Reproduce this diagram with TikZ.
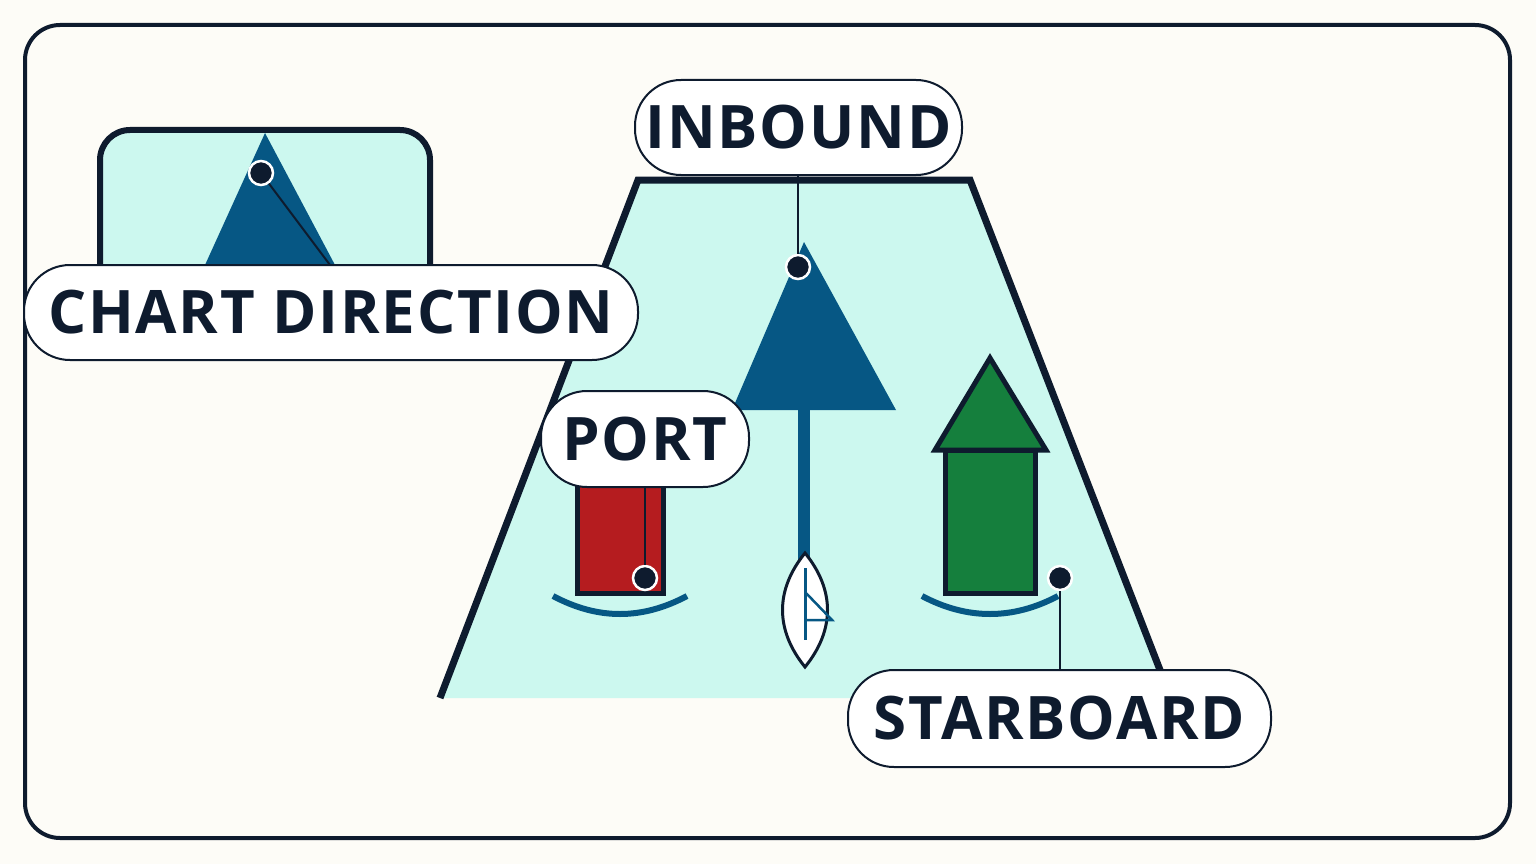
\documentclass[tikz,border=0pt]{standalone}
\usepackage{fontspec}
\setmainfont{Open Sans}[LetterSpace=3]
\begin{document}
\definecolor{bg}{HTML}{FDFCF7}
\definecolor{ink}{HTML}{0E1B2E}
\definecolor{aqua}{HTML}{CCF8EF}
\definecolor{navy}{HTML}{065784}
\definecolor{red}{HTML}{B51C1F}
\definecolor{grn}{HTML}{157F3D}
\begin{tikzpicture}[x=1pt,y=-1pt,
  pill/.style={draw=ink,line width=2pt,fill=white,rounded corners=46pt,font=\fontsize{60}{60}\selectfont\bfseries,text=ink,inner sep=0pt},
  dot/.style={circle,fill=ink,draw=white,line width=2.5pt,minimum size=24pt,inner sep=0pt},
  lead/.style={draw=ink,line width=2pt},
  arcs/.style={draw=navy,line width=6pt}]
\useasboundingbox (0,0) rectangle (1536,864);
\fill[bg] (0,0) rectangle (1536,864);
\draw[ink,line width=4pt,rounded corners=35pt] (25,25) rectangle (1510,838);
% trapezoid
\fill[aqua] (638,180) -- (970,180) -- (1170,698) -- (440,698) -- cycle;
\draw[ink,line width=7pt] (440,698) -- (638,180) -- (970,180) -- (1160,670);
% center triangle + boat
\fill[navy] (798,410) rectangle (810,560);
\fill[navy] (804,242) -- (896,410) -- (732,410) -- cycle;
\draw[ink,line width=3pt,fill=white] (805,553) .. controls (775,590) and (775,630) .. (805,667) .. controls (835,630) and (835,590) .. (805,553) -- cycle;
\draw[navy,line width=3pt] (805,568) -- (805,640);
\draw[navy,line width=2.5pt] (805,592) -- (832,620) -- (805,620);
% inset chart
\draw[ink,line width=6pt,fill=aqua,rounded corners=30pt] (100,265) -- (100,130) -- (430,130) -- (430,265);
\fill[navy] (265,133) -- (335,265) -- (205,265) -- cycle;
% port
\draw[ink,line width=5pt,fill=red] (577,470) rectangle (663,593);
\draw[arcs] (553,596) .. controls (598,620) and (642,620) .. (687,596);
% starboard
\draw[ink,line width=5pt,fill=grn] (945,450) rectangle (1035,593);
\draw[ink,line width=5pt,fill=grn,line join=miter] (990,358) -- (1046,450) -- (935,450) -- cycle;
\draw[arcs] (922,596) .. controls (967,620) and (1013,620) .. (1058,596);
% labels
\node[pill,minimum width=327pt,minimum height=95pt] (inb) at (798.5,127.5) {INBOUND};
\node[pill,minimum width=614pt,minimum height=95pt] (chd) at (331,312.5) {CHART DIRECTION};
\node[pill,minimum width=208pt,minimum height=96pt] (prt) at (645,439) {PORT};
\node[pill,minimum width=423pt,minimum height=97pt] (stb) at (1059.5,718.5) {STARBOARD};
\node[dot] (d1) at (798,267) {};
\node[dot] (d2) at (261,173) {};
\node[dot] (d3) at (645,578) {};
\node[dot] (d4) at (1060,578) {};
\coordinate (e2) at (330,265);
\draw[lead] (inb.south -| d1) -- (d1);
\draw[lead] (d2) -- (e2);
\draw[lead] (prt.south -| d3) -- (d3);
\draw[lead] (d4) -- (stb.north -| d4);
\end{tikzpicture}
\end{document}
